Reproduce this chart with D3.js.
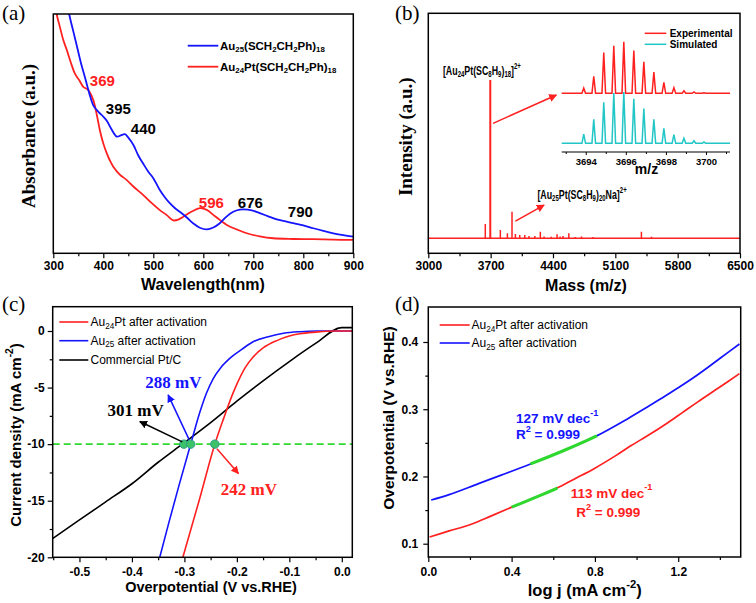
<!DOCTYPE html>
<html><head><meta charset="utf-8">
<script src="https://cdn.jsdelivr.net/npm/d3@7"></script>
<style>body{margin:0;background:#fff} svg{display:block}</style>
</head><body>
<svg id="fig" width="756" height="603"></svg>
<script>
// ---------- Panel (a): UV-vis ----------
const wlAu25 = [325,332,340,347,355,363,372,380,387,393,400,407,415,427,435,443,450,460,470,480,490,500,513,523,533,543,553,567,580,593,607,620,633,647,660,673,680,697,713,730,747,765,780,800,820,840,860,880,900];
const absAu25 = [1.08,1.0,0.93,0.87,0.80,0.74,0.67,0.62,0.60,0.587,0.573,0.556,0.525,0.489,0.494,0.499,0.485,0.455,0.41,0.375,0.342,0.315,0.265,0.235,0.21,0.19,0.174,0.15,0.125,0.107,0.10,0.108,0.126,0.155,0.174,0.183,0.184,0.18,0.168,0.155,0.142,0.134,0.126,0.117,0.105,0.094,0.084,0.076,0.07];
const wlAu24Pt = [303,307,313,320,327,335,343,352,360,370,380,387,393,400,407,413,420,433,447,460,480,497,513,527,540,550,560,577,593,607,620,633,647,667,687,713,740,780,820,860,900];
const absAu24Pt = [1.05,1.0,0.95,0.894,0.852,0.80,0.754,0.725,0.698,0.684,0.642,0.58,0.517,0.46,0.419,0.39,0.363,0.33,0.307,0.28,0.244,0.21,0.181,0.16,0.138,0.141,0.153,0.175,0.189,0.182,0.161,0.14,0.119,0.10,0.084,0.071,0.063,0.06,0.059,0.057,0.056];
const peakLabelsA = [
  {t:"369", wl:373, a:0.726, c:"#ff2020"},
  {t:"395", wl:405, a:0.605, c:"#000"},
  {t:"440", wl:455, a:0.521, c:"#000"},
  {t:"596", wl:591, a:0.215, c:"#ff2020"},
  {t:"676", wl:669, a:0.215, c:"#000"},
  {t:"790", wl:769, a:0.177, c:"#000"}
];
const ticksA = [300,400,500,600,700,800,900];

// ---------- Panel (b): mass spectrum ----------
const msMass = [3640,3696,3809,3888,3940,3978,4027,4083,4130,4196,4258,4300,4380,4446,4480,4513,4578,4650,4720,4850,5393,5506];
const msInt  = [9,100,5.2,3.2,16.8,2.7,2.1,2.1,1.5,1.5,4.2,1.2,1.0,2.5,1.2,1.5,3.2,0.8,1.2,0.8,4.2,1.0];
const ticksB = [3000,3700,4400,5100,5800,6500];
const isoMass = [3693.9,3694.4,3694.9,3695.4,3695.9,3696.4,3696.9,3697.4,3697.9,3698.4,3698.9,3699.4,3699.9];
const isoExp  = [0.10,0.33,0.79,0.92,1.0,0.83,0.61,0.41,0.21,0.11,0.05,0.025,0.01];
const isoSim  = [0.18,0.47,0.80,0.98,1.0,0.87,0.68,0.47,0.29,0.17,0.10,0.05,0.025];
const ticksInset = [3694,3696,3698,3700];

// ---------- Panel (c): LSV ----------
const vAu24Pt = [-0.303,-0.272,-0.242,-0.225,-0.21,-0.2,-0.185,-0.169,-0.15,-0.124,-0.1,-0.08,-0.05,-0.016,0.02];
const jAu24Pt = [-20,-15,-10,-7.7,-5.8,-4.7,-3.3,-2.3,-1.5,-0.85,-0.45,-0.25,-0.1,0,0];
const vAu25 = [-0.347,-0.33,-0.31,-0.288,-0.27,-0.258,-0.245,-0.23,-0.213,-0.19,-0.169,-0.14,-0.111,-0.08,-0.048,0.02];
const jAu25 = [-20,-17,-13.6,-10,-7.1,-5.5,-4.2,-3.2,-2.4,-1.6,-0.95,-0.5,-0.2,-0.06,0,0];
const vPtC = [-0.553,-0.5,-0.45,-0.4,-0.35,-0.304,-0.25,-0.2,-0.15,-0.1,-0.05,0.0,0.02];
const jPtC = [-18.4,-16.7,-15.1,-13.5,-11.6,-10,-8.1,-6.2,-4.4,-2.7,-1.1,0.3,0.3];
const onsetV = [-0.301,-0.288,-0.242];
const ticksCx = [-0.5,-0.4,-0.3,-0.2,-0.1,0.0];
const ticksCy = [0,-5,-10,-15,-20];

// ---------- Panel (d): Tafel ----------
const logjAu24Pt = [0.006,0.1,0.206,0.3,0.398,0.5,0.614,0.7,0.798,0.9,0.974,1.06,1.15,1.22,1.294,1.4,1.494];
const etaAu24Pt  = [0.110,0.119,0.129,0.141,0.154,0.167,0.182,0.196,0.212,0.231,0.246,0.262,0.280,0.295,0.311,0.333,0.353];
const logjAu25 = [0.014,0.1,0.238,0.35,0.494,0.654,0.806,0.958,1.05,1.118,1.2,1.278,1.35,1.406,1.494];
const etaAu25  = [0.165,0.173,0.189,0.202,0.219,0.239,0.260,0.286,0.303,0.316,0.332,0.348,0.364,0.377,0.397];
const fitRangeAu24Pt = [0.4,0.62];
const fitRangeAu25 = [0.49,0.81];
const ticksDx = [0.0,0.4,0.8,1.2];
const ticksDy = [0.1,0.2,0.3,0.4];

// ======================================================
const SANS = "Arial, 'Liberation Sans', Helvetica, sans-serif";
const SERIF = "'Times New Roman', 'Liberation Serif', serif";
const RED = "#ff2020", BLUE = "#1414ff", CYAN = "#22c6c6", GREEN = "#2fd82f";
const svg = d3.select("#fig");
const defs = svg.append("defs");
const hy = f => d => f(d).replace("\u2212", "-");

function rich(g, str, x, y, o) {
  const fs = o.size;
  let host = g, tx = x, ty = y;
  if (o.sx) { host = g.append("g").attr("transform", `translate(${x},${y}) scale(${o.sx},1)`); tx = 0; ty = 0; }
  const t = host.append("text").attr("x", tx).attr("y", ty)
    .attr("font-family", o.family || SANS).attr("font-size", fs)
    .attr("font-weight", o.weight || "bold").attr("fill", o.fill || "#000")
    .attr("text-anchor", o.anchor || "start").attr("dominant-baseline", "central");
  if (o.rotate) t.attr("transform", `rotate(-90 ${tx} ${ty})`);
  const re = /([_^])\{([^}]*)\}|([^_^]+)/g;
  let m, shift = 0;
  while ((m = re.exec(str))) {
    let target = 0, text, sz = fs;
    if (m[3]) { text = m[3]; }
    else { target = m[1] === "_" ? fs * 0.3 : -fs * 0.38; text = m[2]; sz = fs * 0.68; }
    t.append("tspan").attr("dy", target - shift).attr("font-size", sz).text(text);
    shift = target;
  }
  return t;
}
function marker(id, color) {
  defs.append("marker").attr("id", id).attr("viewBox", "0 0 10 10")
    .attr("refX", 9).attr("refY", 5).attr("markerWidth", 8).attr("markerHeight", 8)
    .attr("markerUnits", "userSpaceOnUse").attr("orient", "auto")
    .append("path").attr("d", "M0,0 L10,5 L0,10 z").attr("fill", color);
}
marker("arR", RED); marker("arB", BLUE); marker("arK", "#000");

function clip(id, x0, y0, x1, y1) {
  defs.append("clipPath").attr("id", id).append("rect")
    .attr("x", x0).attr("y", y0).attr("width", x1 - x0).attr("height", y1 - y0);
}
function frame(x0, y0, x1, y1) {
  svg.append("rect").attr("x", x0).attr("y", y0).attr("width", x1 - x0).attr("height", y1 - y0)
    .attr("fill", "none").attr("stroke", "#000").attr("stroke-width", 1.5);
}
function styleAxis(g, size) {
  g.selectAll("path").attr("stroke", "none");
  g.selectAll("line").attr("stroke", "#000").attr("stroke-width", 1.2);
  g.selectAll("text").attr("font-family", SANS).attr("font-weight", "bold").attr("font-size", size || 12).attr("fill", "#000");
}
function bottomAxis(x, y0, ticks, minor, fmt, pad) {
  const g = svg.append("g").attr("transform", `translate(0,${y0})`)
    .call(d3.axisBottom(x).tickValues(ticks).tickSize(5).tickPadding(pad).tickFormat(fmt));
  styleAxis(g);
  const gm = svg.append("g").attr("transform", `translate(0,${y0})`)
    .call(d3.axisBottom(x).tickValues(minor).tickSize(3).tickFormat(""));
  styleAxis(gm);
}
function leftAxis(y, x0, ticks, minor, fmt, pad) {
  const g = svg.append("g").attr("transform", `translate(${x0},0)`)
    .call(d3.axisLeft(y).tickValues(ticks).tickSize(5).tickPadding(pad).tickFormat(fmt));
  styleAxis(g);
  const gm = svg.append("g").attr("transform", `translate(${x0},0)`)
    .call(d3.axisLeft(y).tickValues(minor).tickSize(3).tickFormat(""));
  styleAxis(gm);
}
function panelLetter(t, x, y) {
  svg.append("text").attr("x", x).attr("y", y).attr("font-family", SERIF).attr("font-size", 21)
    .attr("dominant-baseline", "central").text(t);
}

// ================= Panel (a) =================
{
  const L = 53.3, R = 353.3, T = 14, B = 253.3;
  const x = d3.scaleLinear([300, 900], [L, R]);
  const y = d3.scaleLinear([0, 1], [B, T + 0.7]);
  clip("cA", L, T, R, B);
  const line = d3.line().x(d => x(d[0])).y(d => y(d[1])).curve(d3.curveCatmullRom);
  const g = svg.append("g").attr("clip-path", "url(#cA)");
  g.append("path").attr("d", line(d3.zip(wlAu24Pt, absAu24Pt))).attr("fill", "none").attr("stroke", RED).attr("stroke-width", 1.8);
  g.append("path").attr("d", line(d3.zip(wlAu25, absAu25))).attr("fill", "none").attr("stroke", BLUE).attr("stroke-width", 1.8);
  bottomAxis(x, B, ticksA, [350,450,550,650,750,850], d3.format("d"), 3);
  frame(L, T, R, B);
  peakLabelsA.forEach(p => svg.append("text").attr("x", x(p.wl)).attr("y", y(p.a))
    .attr("font-family", SANS).attr("font-weight", "bold").attr("font-size", 15)
    .attr("fill", p.c).attr("dominant-baseline", "central").text(p.t));
  svg.append("line").attr("x1", 187.7).attr("x2", 218.3).attr("y1", 45.7).attr("y2", 45.7).attr("stroke", BLUE).attr("stroke-width", 1.8);
  rich(svg, "Au_{25}(SCH_{2}CH_{2}Ph)_{18}", 220, 45.7, {size: 11.5});
  svg.append("line").attr("x1", 187.7).attr("x2", 218.3).attr("y1", 66.7).attr("y2", 66.7).attr("stroke", RED).attr("stroke-width", 1.8);
  rich(svg, "Au_{24}Pt(SCH_{2}CH_{2}Ph)_{18}", 220, 66.7, {size: 11.5});
  rich(svg, "Wavelength(nm)", 203, 283.5, {size: 16, anchor: "middle"});
  rich(svg, "Absorbance (a.u.)", 28, 136, {size: 19, anchor: "middle", family: SERIF, rotate: true});
  panelLetter("(a)", 2, 13);
}

// ================= Panel (b) =================
{
  const L = 428.3, R = 740, T = 13.3, B = 253.3;
  const x = d3.scaleLinear([3000, 6500], [L, R]);
  const y = d3.scaleLinear([0, 100], [238.3, 80]);
  clip("cB", L, T, R, B);
  const g = svg.append("g").attr("clip-path", "url(#cB)");
  g.append("line").attr("x1", x(3000)).attr("x2", x(6500)).attr("y1", y(0)).attr("y2", y(0)).attr("stroke", RED).attr("stroke-width", 1.6);
  g.selectAll("line.pk").data(d3.zip(msMass, msInt)).join("line").attr("class", "pk")
    .attr("x1", d => x(d[0])).attr("x2", d => x(d[0])).attr("y1", y(0)).attr("y2", d => y(d[1]))
    .attr("stroke", RED).attr("stroke-width", d => d[1] > 50 ? 2 : 1.5);
  bottomAxis(x, B, ticksB, [3350,4050,4750,5450,6150], d3.format("d"), 3);
  frame(L, T, R, B);
  svg.append("line").attr("x1", x(3727)).attr("y1", y(72.6)).attr("x2", x(4438)).attr("y2", y(90.5))
    .attr("stroke", RED).attr("stroke-width", 1.5).attr("marker-end", "url(#arR)");
  svg.append("line").attr("x1", x(3978)).attr("y1", y(10.9)).attr("x2", x(4300)).attr("y2", y(21))
    .attr("stroke", RED).attr("stroke-width", 1.5).attr("marker-end", "url(#arR)");
  rich(svg, "[Au_{24}Pt(SC_{8}H_{9})_{18}]^{2+}", x(3164), y(106.3), {size: 13, sx: 0.68});
  rich(svg, "[Au_{25}Pt(SC_{8}H_{9})_{20}Na]^{2+}", x(4225), y(28), {size: 13, sx: 0.68});
  const xi = d3.scaleLinear([3692.8, 3701.2], [561.7, 730]);
  const yE = d3.scaleLinear([0, 1], [93.3, 41.7]);
  const yS = d3.scaleLinear([0, 1], [143.3, 92]);
  function spikes(ys, vals) {
    const pts = [[3692.8, 0]];
    isoMass.forEach((m, i) => { pts.push([m - 0.09, 0], [m, vals[i]], [m + 0.09, 0]); });
    pts.push([3701.2, 0]);
    return d3.line().x(d => xi(d[0])).y(d => ys(d[1]))(pts);
  }
  svg.append("path").attr("d", spikes(yE, isoExp)).attr("fill", "none").attr("stroke", RED).attr("stroke-width", 1.5);
  svg.append("path").attr("d", spikes(yS, isoSim)).attr("fill", "none").attr("stroke", CYAN).attr("stroke-width", 1.5);
  const gi = svg.append("g").attr("transform", "translate(0,152)")
    .call(d3.axisBottom(xi).tickValues(ticksInset).tickSize(3).tickPadding(3).tickFormat(d3.format("d")));
  gi.select("path").attr("stroke", "#000").attr("stroke-width", 1.2).attr("d", "M561.7,0H730");
  gi.selectAll("line").attr("stroke", "#000");
  gi.selectAll("text").attr("font-family", SANS).attr("font-weight", "bold").attr("font-size", 9.5);
  const gim = svg.append("g").attr("transform", "translate(0,152)")
    .call(d3.axisBottom(xi).tickValues([3693,3695,3697,3699,3701]).tickSize(2).tickFormat(""));
  gim.select("path").remove();
  gim.selectAll("line").attr("stroke", "#000");
  rich(svg, "m/z", 646.5, 168.5, {size: 14, anchor: "middle"});
  svg.append("line").attr("x1", 644.7).attr("x2", 666.3).attr("y1", 33.3).attr("y2", 33.3).attr("stroke", RED).attr("stroke-width", 1.5);
  rich(svg, "Experimental", 669.7, 33.3, {size: 10});
  svg.append("line").attr("x1", 644.7).attr("x2", 666.3).attr("y1", 44.3).attr("y2", 44.3).attr("stroke", CYAN).attr("stroke-width", 1.5);
  rich(svg, "Simulated", 669.7, 44.3, {size: 10});
  rich(svg, "Mass (m/z)", 586, 285, {size: 16, anchor: "middle"});
  rich(svg, "Intensity (a.u.)", 404.7, 136.7, {size: 19, anchor: "middle", family: SERIF, rotate: true});
  panelLetter("(b)", 395, 13);
}

// ================= Panel (c) =================
{
  const L = 52.7, R = 352.3, T = 306.7, B = 557.3;
  const x = d3.scaleLinear([-0.551, 0.02], [L, R]);
  const y = d3.scaleLinear([-20, 0], [B, 331]);
  clip("cC", L, T, R, B);
  const line = d3.line().x(d => x(d[0])).y(d => y(d[1])).curve(d3.curveMonotoneX);
  const g = svg.append("g").attr("clip-path", "url(#cC)");
  g.append("line").attr("x1", L).attr("x2", R).attr("y1", y(-10)).attr("y2", y(-10))
    .attr("stroke", GREEN).attr("stroke-width", 1.8).attr("stroke-dasharray", "7,4");
  g.append("path").attr("d", line(d3.zip(vPtC, jPtC))).attr("fill", "none").attr("stroke", "#000").attr("stroke-width", 1.6);
  g.append("path").attr("d", line(d3.zip(vAu25, jAu25))).attr("fill", "none").attr("stroke", BLUE).attr("stroke-width", 1.6);
  g.append("path").attr("d", line(d3.zip(vAu24Pt, jAu24Pt))).attr("fill", "none").attr("stroke", RED).attr("stroke-width", 1.6);
  g.selectAll("circle").data(onsetV).join("circle").attr("cx", d => x(d)).attr("cy", y(-10)).attr("r", 4.2)
    .attr("fill", "#3cc36a").attr("stroke", "#2a9a8a").attr("stroke-width", 1);
  bottomAxis(x, B, ticksCx, [-0.55,-0.45,-0.35,-0.25,-0.15,-0.05], hy(d3.format(".1f")), 5);
  leftAxis(y, L, ticksCy, [-2.5,-7.5,-12.5,-17.5], hy(d3.format("d")), 3);
  frame(L, T, R, B);
  svg.append("line").attr("x1", x(-0.304)).attr("y1", y(-9.8)).attr("x2", x(-0.385)).attr("y2", y(-8.0))
    .attr("stroke", "#000").attr("stroke-width", 1.5).attr("marker-end", "url(#arK)");
  svg.append("line").attr("x1", x(-0.291)).attr("y1", y(-9.6)).attr("x2", x(-0.331)).attr("y2", y(-5.65))
    .attr("stroke", BLUE).attr("stroke-width", 1.5).attr("marker-end", "url(#arB)");
  svg.append("line").attr("x1", x(-0.238)).attr("y1", y(-10.4)).attr("x2", x(-0.197)).attr("y2", y(-12.6))
    .attr("stroke", RED).attr("stroke-width", 1.5).attr("marker-end", "url(#arR)");
  rich(svg, "301 mV", x(-0.393), y(-6.97), {size: 17, family: SERIF, anchor: "middle"});
  rich(svg, "288 mV", x(-0.321), y(-4.47), {size: 17, family: SERIF, anchor: "middle", fill: BLUE});
  rich(svg, "242 mV", x(-0.177), y(-14.0), {size: 17, family: SERIF, anchor: "middle", fill: RED});
  [["Au_{24}Pt after activation", RED, 322], ["Au_{25} after activation", BLUE, 340.7], ["Commercial Pt/C", "#000", 360]].forEach(l => {
    svg.append("line").attr("x1", 59.3).attr("x2", 88.3).attr("y1", l[2]).attr("y2", l[2]).attr("stroke", l[1]).attr("stroke-width", 1.6);
    rich(svg, l[0], 90.5, l[2], {size: 12, weight: "normal"});
  });
  rich(svg, "Overpotential (V vs.RHE)", 211, 587, {size: 14.5, anchor: "middle"});
  rich(svg, "Current density (mA cm^{-2})", 15, 435, {size: 15, anchor: "middle", rotate: true});
  panelLetter("(c)", 2, 304);
}

// ================= Panel (d) =================
{
  const L = 428.3, R = 740.7, T = 307, B = 557;
  const x = d3.scaleLinear([0, 1.5], [L, R]);
  const y = d3.scaleLinear([0.1, 0.4], [543.7, 342]);
  clip("cD", L, T, R, B);
  const line = d3.line().x(d => x(d[0])).y(d => y(d[1])).curve(d3.curveCatmullRom);
  const g = svg.append("g").attr("clip-path", "url(#cD)");
  const dR = d3.zip(logjAu24Pt, etaAu24Pt), dB = d3.zip(logjAu25, etaAu25);
  g.append("path").attr("d", line(dR)).attr("fill", "none").attr("stroke", RED).attr("stroke-width", 1.7);
  g.append("path").attr("d", line(dB)).attr("fill", "none").attr("stroke", BLUE).attr("stroke-width", 1.7);
  function seg(data, r) {
    const interp = v => { for (let i = 1; i < data.length; i++) if (data[i][0] >= v) { const a = data[i-1], b = data[i]; return a[1] + (b[1]-a[1]) * (v-a[0]) / (b[0]-a[0]); } };
    const pts = [[r[0], interp(r[0])]].concat(data.filter(d => d[0] > r[0] && d[0] < r[1])).concat([[r[1], interp(r[1])]]);
    return line(pts);
  }
  g.append("path").attr("d", seg(dR, fitRangeAu24Pt)).attr("fill", "none").attr("stroke", GREEN).attr("stroke-width", 3);
  g.append("path").attr("d", seg(dB, fitRangeAu25)).attr("fill", "none").attr("stroke", GREEN).attr("stroke-width", 3);
  bottomAxis(x, B, ticksDx, [0.2,0.6,1.0,1.4], d3.format(".1f"), 5);
  leftAxis(y, L, ticksDy, [0.15,0.25,0.35], d3.format(".1f"), 5);
  frame(L, T, R, B);
  rich(svg, "127 mV dec^{-1}", x(0.421), y(0.2875), {size: 13.5, fill: BLUE});
  rich(svg, "R^{2} = 0.999", x(0.421), y(0.263), {size: 13.5, fill: BLUE});
  rich(svg, "113 mV dec^{-1}", x(0.684), y(0.176), {size: 13.5, fill: RED});
  rich(svg, "R^{2} = 0.999", x(0.710), y(0.147), {size: 13.5, fill: RED});
  [["Au_{24}Pt after activation", RED, 325], ["Au_{25} after activation", BLUE, 343]].forEach(l => {
    svg.append("line").attr("x1", 439.7).attr("x2", 469.7).attr("y1", l[2]).attr("y2", l[2]).attr("stroke", l[1]).attr("stroke-width", 1.6);
    rich(svg, l[0], 471.5, l[2], {size: 12, weight: "normal"});
  });
  rich(svg, "log j (mA cm^{-2})", 584.7, 590, {size: 16.5, anchor: "middle"});
  rich(svg, "Overpotential (V vs.RHE)", 388, 418, {size: 15.5, anchor: "middle", rotate: true});
  panelLetter("(d)", 395, 304);
}
</script></body></html>
